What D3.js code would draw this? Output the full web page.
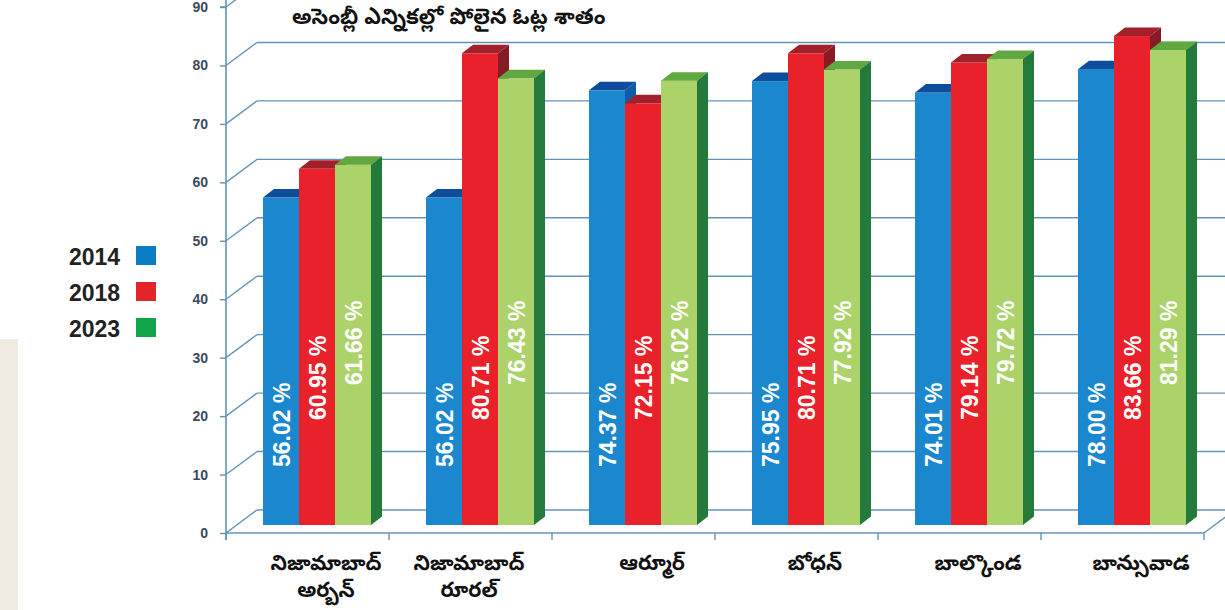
<!DOCTYPE html>
<html>
<head>
<meta charset="utf-8">
<script src="https://cdn.jsdelivr.net/npm/d3@7"></script>
<style>
  html, body { margin: 0; padding: 0; background: #ffffff; }
  svg { display: block; }
</style>
</head>
<body>
<div id="chart"></div>
<script>
// chart data
var title = "అసెంబ్లీ ఎన్నికల్లో పోలైన ఓట్ల శాతం";
var categories = [
	["నిజామాబాద్", "అర్బన్"],
	["నిజామాబాద్", "రూరల్"],
	["ఆర్మూర్"],
	["బోధన్"],
	["బాల్కొండ"],
	["బాన్సువాడ"]
];
var years = ["2014", "2018", "2023"];
var values2014 = [56.02, 56.02, 74.37, 75.95, 74.01, 78.00];
var values2018 = [60.95, 80.71, 72.15, 80.71, 79.14, 83.66];
var values2023 = [61.66, 76.43, 76.02, 77.92, 79.72, 81.29];
var yTicks = [0, 10, 20, 30, 40, 50, 60, 70, 80, 90];

function init() {

	var w = 1225;
	var h = 610;

	var series = [values2014, values2018, values2023];

	// colours: front, top, side, legend
	var front  = ["#1a87cf", "#e8212a", "#acd26a"];
	var topC   = ["#0e4c9c", "#a2202b", "#62a840"];
	var sideC  = ["#0d5ca6", "#861b25", "#237a3a"];
	var legC   = ["#0a7dc4", "#e3242b", "#10a54a"];
	var gridC  = "#6393b8";

	// wall depth
	var depthX = 31, depthY = -23;

	var svg = d3.select("#chart")
		.append("svg")
		.attr("width", w)
		.attr("height", h);

	// beige strip on left
	svg.append("rect")
		.attr("x", 0).attr("y", 339)
		.attr("width", 18).attr("height", h - 339)
		.attr("fill", "#efebe0");

	var yScale = d3.scaleLinear()
		.domain([0, 90])
		.range([533, 7]);

	var xScale = d3.scaleBand()
		.domain(d3.range(categories.length))
		.range([226, 1204])
		.paddingInner(0)
		.paddingOuter(0);

	var xSub = d3.scaleBand()
		.domain(d3.range(years.length))
		.range([37, 37 + 108]);

	var grid = svg.append("g");

	// back wall gridlines + diagonals
	yTicks.forEach(function(t) {
		var y = yScale(t);
		grid.append("line")
			.attr("x1", 226).attr("y1", y)
			.attr("x2", 226 + depthX).attr("y2", y + depthY)
			.attr("stroke", gridC).attr("stroke-width", 1.4);
		grid.append("line")
			.attr("x1", 226 + depthX).attr("y1", y + depthY)
			.attr("x2", w).attr("y2", y + depthY)
			.attr("stroke", gridC).attr("stroke-width", 1.4);
	});

	// floor right diagonal
	grid.append("line")
		.attr("x1", 1204).attr("y1", yScale(0))
		.attr("x2", 1204 + depthX).attr("y2", yScale(0) + depthY)
		.attr("stroke", gridC).attr("stroke-width", 1.4);

	// y axis
	var yAxis = d3.axisLeft(yScale)
		.tickValues(yTicks)
		.tickSize(6)
		.tickPadding(12);

	var gy = svg.append("g")
		.attr("transform", "translate(226,0)")
		.call(yAxis);
	gy.select(".domain").attr("stroke", gridC).attr("stroke-width", 1.6)
		.attr("d", "M-6," + yScale(90) + "H0V0V540");
	gy.selectAll(".tick line").attr("stroke", gridC).attr("stroke-width", 1.4);
	gy.selectAll(".tick text")
		.attr("fill", "#3c4a5c")
		.style("font-family", "'Liberation Sans', Arial, sans-serif")
		.style("font-weight", "bold")
		.style("font-size", "14px");

	// x axis
	var xAxis = d3.axisBottom(xScale)
		.tickSize(6)
		.tickFormat("");
	var gx = svg.append("g")
		.attr("transform", "translate(0," + yScale(0) + ")")
		.call(xAxis);
	gx.select(".domain").attr("stroke", gridC).attr("stroke-width", 1.6)
		.attr("d", "M226,0H1204");
	// ticks at band edges
	gx.selectAll(".tick").remove();
	d3.range(categories.length + 1).forEach(function(i) {
		var x = i < categories.length ? xScale(i) : xScale(i - 1) + xScale.bandwidth();
		gx.append("line")
			.attr("x1", x).attr("x2", x)
			.attr("y1", 0).attr("y2", 7)
			.attr("stroke", gridC).attr("stroke-width", 1.4);
	});

	// bars
	var baseShiftY = -8;
	var tX = 11, tY = -8.5;
	var bw = xSub.bandwidth();
	var yBase = yScale(0) + baseShiftY;

	var bars = svg.append("g");
	var labelStart = [58, 105, 140];

	categories.forEach(function(c, ci) {
		series.forEach(function(vals, si) {
			var d = vals[ci];
			var x0 = xScale(ci) + xSub(si);
			var yTop = yScale(d) + baseShiftY;
			var g = bars.append("g");

			g.append("rect")
				.attr("x", x0).attr("y", yTop)
				.attr("width", bw).attr("height", yBase - yTop)
				.attr("fill", front[si]);

			g.append("polygon")
				.attr("points", [
					[x0, yTop], [x0 + tX, yTop + tY],
					[x0 + bw + tX, yTop + tY], [x0 + bw, yTop]
				].map(function(p) { return p.join(","); }).join(" "))
				.attr("fill", topC[si]);

			g.append("polygon")
				.attr("points", [
					[x0 + bw, yTop], [x0 + bw + tX, yTop + tY],
					[x0 + bw + tX, yBase + tY], [x0 + bw, yBase]
				].map(function(p) { return p.join(","); }).join(" "))
				.attr("fill", sideC[si]);

			g.append("text")
				.attr("transform", "translate(" + (x0 + bw / 2 + 8.5) + "," + (yBase - labelStart[si]) + ") rotate(-90)")
				.attr("fill", "#ffffff")
				.style("font-family", "'Liberation Sans', Arial, sans-serif")
				.style("font-weight", "bold")
				.style("font-size", "23px")
				.text(d.toFixed(2) + " %");
		});
	});

	// category labels
	var catG = svg.append("g");
	categories.forEach(function(c, ci) {
		var cx = xScale(ci) + 100 + (ci === 1 ? -20 : 0);
		c.forEach(function(line, li) {
			catG.append("text")
				.attr("x", cx)
				.attr("y", 570 + li * 27)
				.attr("text-anchor", "middle")
				.attr("fill", "#111")
				.style("font-family", "'Noto Sans Telugu', 'Noto Sans', sans-serif")
				.style("font-weight", "bold")
				.style("font-size", "21px")
				.text(line);
		});
	});

	// title
	svg.append("text")
		.attr("x", 292)
		.attr("y", 24)
		.attr("fill", "#111")
		.style("font-family", "'Noto Sans Telugu', 'Noto Sans', sans-serif")
		.style("font-weight", "bold")
		.style("font-size", "21.5px")
		.text(title);

	// legend
	var leg = svg.append("g");
	years.forEach(function(yr, i) {
		leg.append("text")
			.attr("x", 69)
			.attr("y", 265 + i * 36)
			.attr("fill", "#222")
			.style("font-family", "'Liberation Sans', Arial, sans-serif")
			.style("font-weight", "bold")
			.style("font-size", "23px")
			.text(yr);
		leg.append("rect")
			.attr("x", 136)
			.attr("y", 246 + i * 36)
			.attr("width", 20)
			.attr("height", 19)
			.attr("fill", legC[i]);
	});
}

window.onload = init;
</script>
</body>
</html>
